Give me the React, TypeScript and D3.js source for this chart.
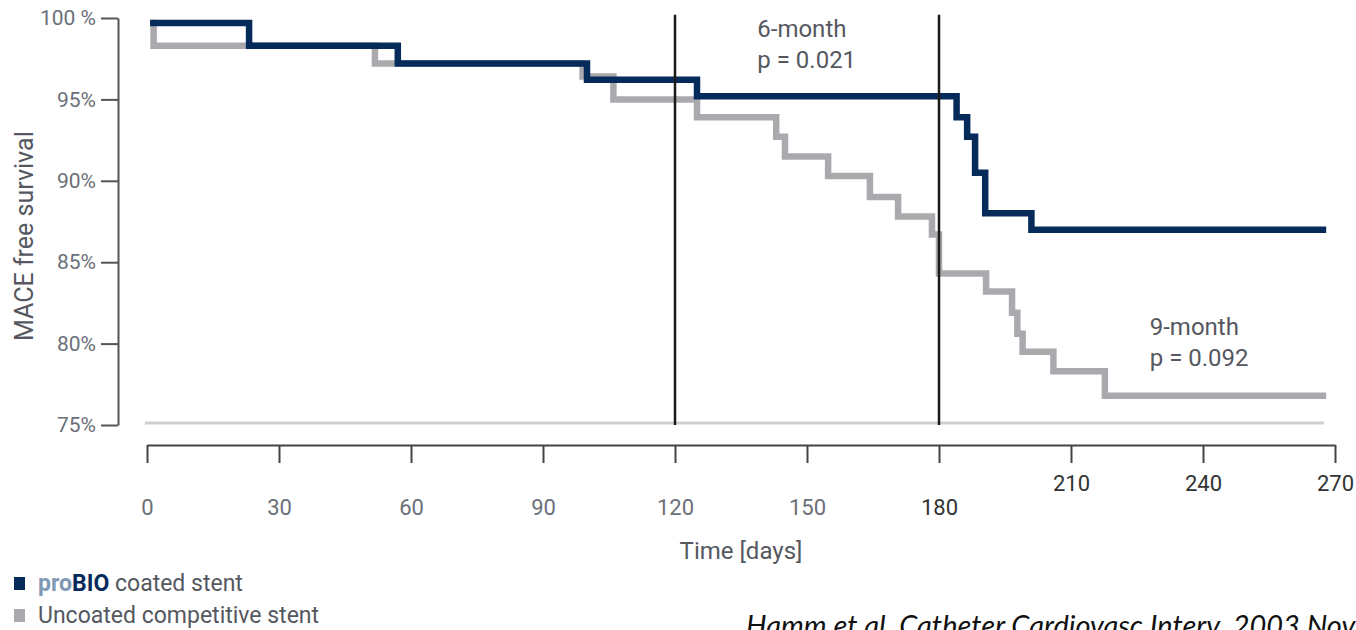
import { useEffect, useRef } from 'react';
import * as d3 from 'd3';

// Kaplan-Meier steps (day, MACE free survival %)
const coatedDays = [0.7, 23.2, 57, 100, 125, 184, 186.4, 188.2, 190.5, 201, 268];
const coatedSurv = [99.7, 98.3, 97.2, 96.2, 95.2, 93.9, 92.7, 90.5, 88.0, 87.0, 87.0];

const uncoatedDays = [0.7, 1.5, 51.8, 99, 106, 125, 143, 145, 154.8, 164.3, 170.7, 178.4, 180, 190.7, 196.6, 197.8, 199, 206, 217.7, 268];
const uncoatedSurv = [99.7, 98.3, 97.2, 96.4, 95.0, 93.9, 92.7, 91.5, 90.3, 89.0, 87.8, 86.7, 84.3, 83.2, 81.9, 80.6, 79.5, 78.3, 76.8, 76.8];

const xTicks = [0, 30, 60, 90, 120, 150, 180, 210, 240, 270];
const yTicks = [75, 80, 85, 90, 95, 100];
const markerDays = [120, 180];

const W = 1356;
const H = 630;
const NAVY = '#062b5a';
const GREY = '#aaaaae';
const FONT = 'Roboto, "DejaVu Sans", sans-serif';

export default function App() {
  const ref = useRef<SVGSVGElement>(null);

  useEffect(() => {
    document.body.style.margin = '0';
    const svg = d3.select(ref.current);
    svg.selectAll('*').remove();

    const x = d3.scaleLinear().domain([0, 270]).range([147, 1335]);
    const y = d3.scaleLinear().domain([75, 100]).range([425, 18]);

    // light baseline at 75 %
    svg.append('line')
      .attr('x1', x(-0.5)).attr('x2', x(267.5))
      .attr('y1', y(75) - 2).attr('y2', y(75) - 2)
      .attr('stroke', '#cfcfd3').attr('stroke-width', 3);

    // y axis
    const yAxis = d3.axisLeft(y)
      .tickValues(yTicks)
      .tickSize(17)
      .tickSizeOuter(0)
      .tickFormat(d => (d === 100 ? '100 %' : `${d}%`));
    const gy = svg.append('g').attr('transform', 'translate(118,0)').call(yAxis);
    gy.select('.domain').attr('stroke', '#555').attr('stroke-width', 2);
    gy.selectAll('.tick line').attr('stroke', '#555').attr('stroke-width', 2);
    gy.selectAll('.tick text')
      .attr('x', -22)
      .attr('fill', '#6b6f78')
      .attr('font-size', 21)
      .attr('font-family', FONT);

    // x axis
    const xAxis = d3.axisBottom(x).tickValues(xTicks).tickSize(18).tickSizeOuter(0);
    const gx = svg.append('g').attr('transform', 'translate(0,445)').call(xAxis);
    gx.select('.domain').attr('stroke', '#444').attr('stroke-width', 2);
    gx.selectAll('.tick line').attr('stroke', '#444').attr('stroke-width', 2);
    gx.selectAll<SVGTextElement, number>('.tick text')
      .attr('y', d => (d > 180 ? 38 : 62))
      .attr('dy', '0.35em')
      .attr('fill', d => (d >= 180 ? '#333' : '#6b6f78'))
      .attr('font-size', 22)
      .attr('font-family', FONT);

    svg.append('text')
      .attr('x', x(135)).attr('y', 559)
      .attr('text-anchor', 'middle')
      .attr('fill', '#55585f').attr('font-size', 24).attr('font-family', FONT)
      .text('Time [days]');

    svg.append('text')
      .attr('transform', `translate(33,${y(86.6)}) rotate(-90)`)
      .attr('text-anchor', 'middle')
      .attr('fill', '#55585f').attr('font-size', 25).attr('font-family', FONT)
      .text('MACE free survival');

    // survival curves
    const line = d3.line<[number, number]>()
      .x(d => x(d[0]))
      .y(d => y(d[1]))
      .curve(d3.curveStepAfter);

    const grey = uncoatedDays.map((d, i) => [d, uncoatedSurv[i]] as [number, number]);
    const navy = coatedDays.map((d, i) => [d, coatedSurv[i]] as [number, number]);

    svg.append('path').attr('d', line(grey)).attr('fill', 'none')
      .attr('stroke', GREY).attr('stroke-width', 6.5).attr('stroke-linejoin', 'miter');
    svg.append('path').attr('d', line(navy)).attr('fill', 'none')
      .attr('stroke', NAVY).attr('stroke-width', 6.5).attr('stroke-linejoin', 'miter');

    // 6- and 9-month markers
    svg.selectAll('line.marker')
      .data(markerDays)
      .join('line')
      .attr('class', 'marker')
      .attr('x1', d => x(d)).attr('x2', d => x(d))
      .attr('y1', y(100.2)).attr('y2', y(75))
      .attr('stroke', '#1a1a1a').attr('stroke-width', 2.5);

    const note = (tx: number, ty: number, lines: string[]) => {
      lines.forEach((t, i) => {
        svg.append('text')
          .attr('x', tx).attr('y', ty + i * 31)
          .attr('fill', '#55585f').attr('font-size', 24).attr('font-family', FONT)
          .text(t);
      });
    };
    note(x(138.7), 37, ['6-month', 'p = 0.021']);
    note(x(227.9), 335, ['9-month', 'p = 0.092']);

    // legend
    const legend = svg.append('g').attr('font-family', FONT).attr('font-size', 23);
    legend.append('rect').attr('x', 14).attr('y', 577).attr('width', 11).attr('height', 13).attr('fill', NAVY);
    const t1 = legend.append('text').attr('x', 38).attr('y', 591);
    t1.append('tspan').attr('fill', '#7f98b4').attr('font-weight', 700).text('pro');
    t1.append('tspan').attr('fill', NAVY).attr('font-weight', 700).text('BIO');
    t1.append('tspan').attr('fill', '#55585f').text(' coated stent');
    legend.append('rect').attr('x', 14).attr('y', 609).attr('width', 11).attr('height', 13).attr('fill', GREY);
    legend.append('text').attr('x', 38).attr('y', 623).attr('fill', '#55585f').text('Uncoated competitive stent');

    // citation, cut off by the page edge as in the source slide
    svg.append('text')
      .attr('x', 746).attr('y', 636)
      .attr('fill', '#111').attr('font-size', 29).attr('font-style', 'italic')
      .attr('font-family', 'Lato, "Open Sans", sans-serif')
      .text('Hamm et al. Catheter Cardiovasc Interv. 2003 Nov');
  }, []);

  return <svg ref={ref} width={W} height={H} style={{ display: 'block', overflow: 'hidden', background: '#fff' }} />;
}
